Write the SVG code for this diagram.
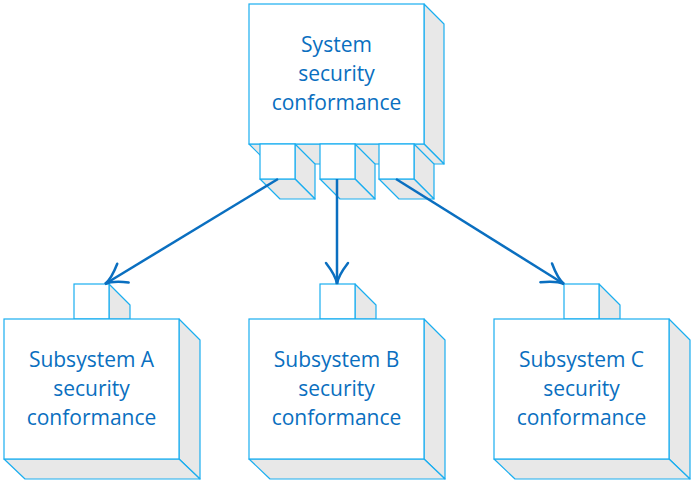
<svg xmlns="http://www.w3.org/2000/svg" width="698" height="484" viewBox="0 0 698 484">
<style>
.f{fill:#fff;stroke:#1aaef0;stroke-width:1.2}
.s{fill:#e8e8e8;stroke:#1aaef0;stroke-width:1.2;stroke-linejoin:round}
.t{font-family:"Open Sans","Noto Sans",sans-serif;font-size:21px;fill:#0a6fc0;text-anchor:middle}
.c{stroke:#0a6fc0;stroke-width:2.5;fill:none}
</style>
<defs>
<marker id="ar" markerUnits="userSpaceOnUse" viewBox="-24 -14 28 28" refX="0" refY="0" markerWidth="28" markerHeight="28" orient="auto" overflow="visible">
<path d="M -21,-11 Q -8,-1 0,0 Q -8,1 -21,11" fill="none" stroke="#0a6fc0" stroke-width="2.5" stroke-linecap="round"/>
</marker>
</defs>
<g id="system">
<polygon class="s" points="424,4 444,24 444,164 424,144"/>
<polygon class="s" points="249,144 269,164 444,164 424,144"/>
<rect class="f" x="249" y="4" width="175" height="140"/>
<g id="port1">
<polygon class="s" points="295,144 315,164 315,199 295,179"/>
<polygon class="s" points="260,179 280,199 315,199 295,179"/>
<rect class="f" x="260" y="144" width="35" height="35"/>
</g>
<g id="port2">
<polygon class="s" points="355,144 375,164 375,199 355,179"/>
<polygon class="s" points="320,179 340,199 375,199 355,179"/>
<rect class="f" x="320" y="144" width="35" height="35"/>
</g>
<g id="port3">
<polygon class="s" points="414,144 434,164 434,199 414,179"/>
<polygon class="s" points="379,179 399,199 434,199 414,179"/>
<rect class="f" x="379" y="144" width="35" height="35"/>
</g>
<text class="t" x="336.5" y="52">System</text>
<text class="t" x="336.5" y="81">security</text>
<text class="t" x="336.5" y="110">conformance</text>
</g>
<g id="subA">
<polygon class="s" points="109,284 130,305 130,319 109,319"/>
<rect class="f" x="74" y="284" width="35" height="35"/>
<polygon class="s" points="179,319 200,340 200,479 179,459"/>
<polygon class="s" points="4,459 25,479 200,479 179,459"/>
<rect class="f" x="4" y="319" width="175" height="140"/>
<text class="t" x="91.5" y="367">Subsystem A</text>
<text class="t" x="91.5" y="396">security</text>
<text class="t" x="91.5" y="425">conformance</text>
</g>
<g id="subB">
<polygon class="s" points="355,284 376,305 376,319 355,319"/>
<rect class="f" x="320" y="284" width="35" height="35"/>
<polygon class="s" points="424,319 445,340 445,479 424,459"/>
<polygon class="s" points="249,459 270,479 445,479 424,459"/>
<rect class="f" x="249" y="319" width="175" height="140"/>
<text class="t" x="336.5" y="367">Subsystem B</text>
<text class="t" x="336.5" y="396">security</text>
<text class="t" x="336.5" y="425">conformance</text>
</g>
<g id="subC">
<polygon class="s" points="599,284 620,305 620,319 599,319"/>
<rect class="f" x="564" y="284" width="35" height="35"/>
<polygon class="s" points="669,319 690,340 690,479 669,459"/>
<polygon class="s" points="494,459 515,479 690,479 669,459"/>
<rect class="f" x="494" y="319" width="175" height="140"/>
<text class="t" x="581.5" y="367">Subsystem C</text>
<text class="t" x="581.5" y="396">security</text>
<text class="t" x="581.5" y="425">conformance</text>
</g>
<g id="connectors">
<line class="c" x1="278" y1="179" x2="105" y2="284" marker-end="url(#ar)"/>
<line class="c" x1="337" y1="179" x2="337" y2="284" marker-end="url(#ar)"/>
<line class="c" x1="396" y1="179" x2="564" y2="284" marker-end="url(#ar)"/>
</g>
</svg>
